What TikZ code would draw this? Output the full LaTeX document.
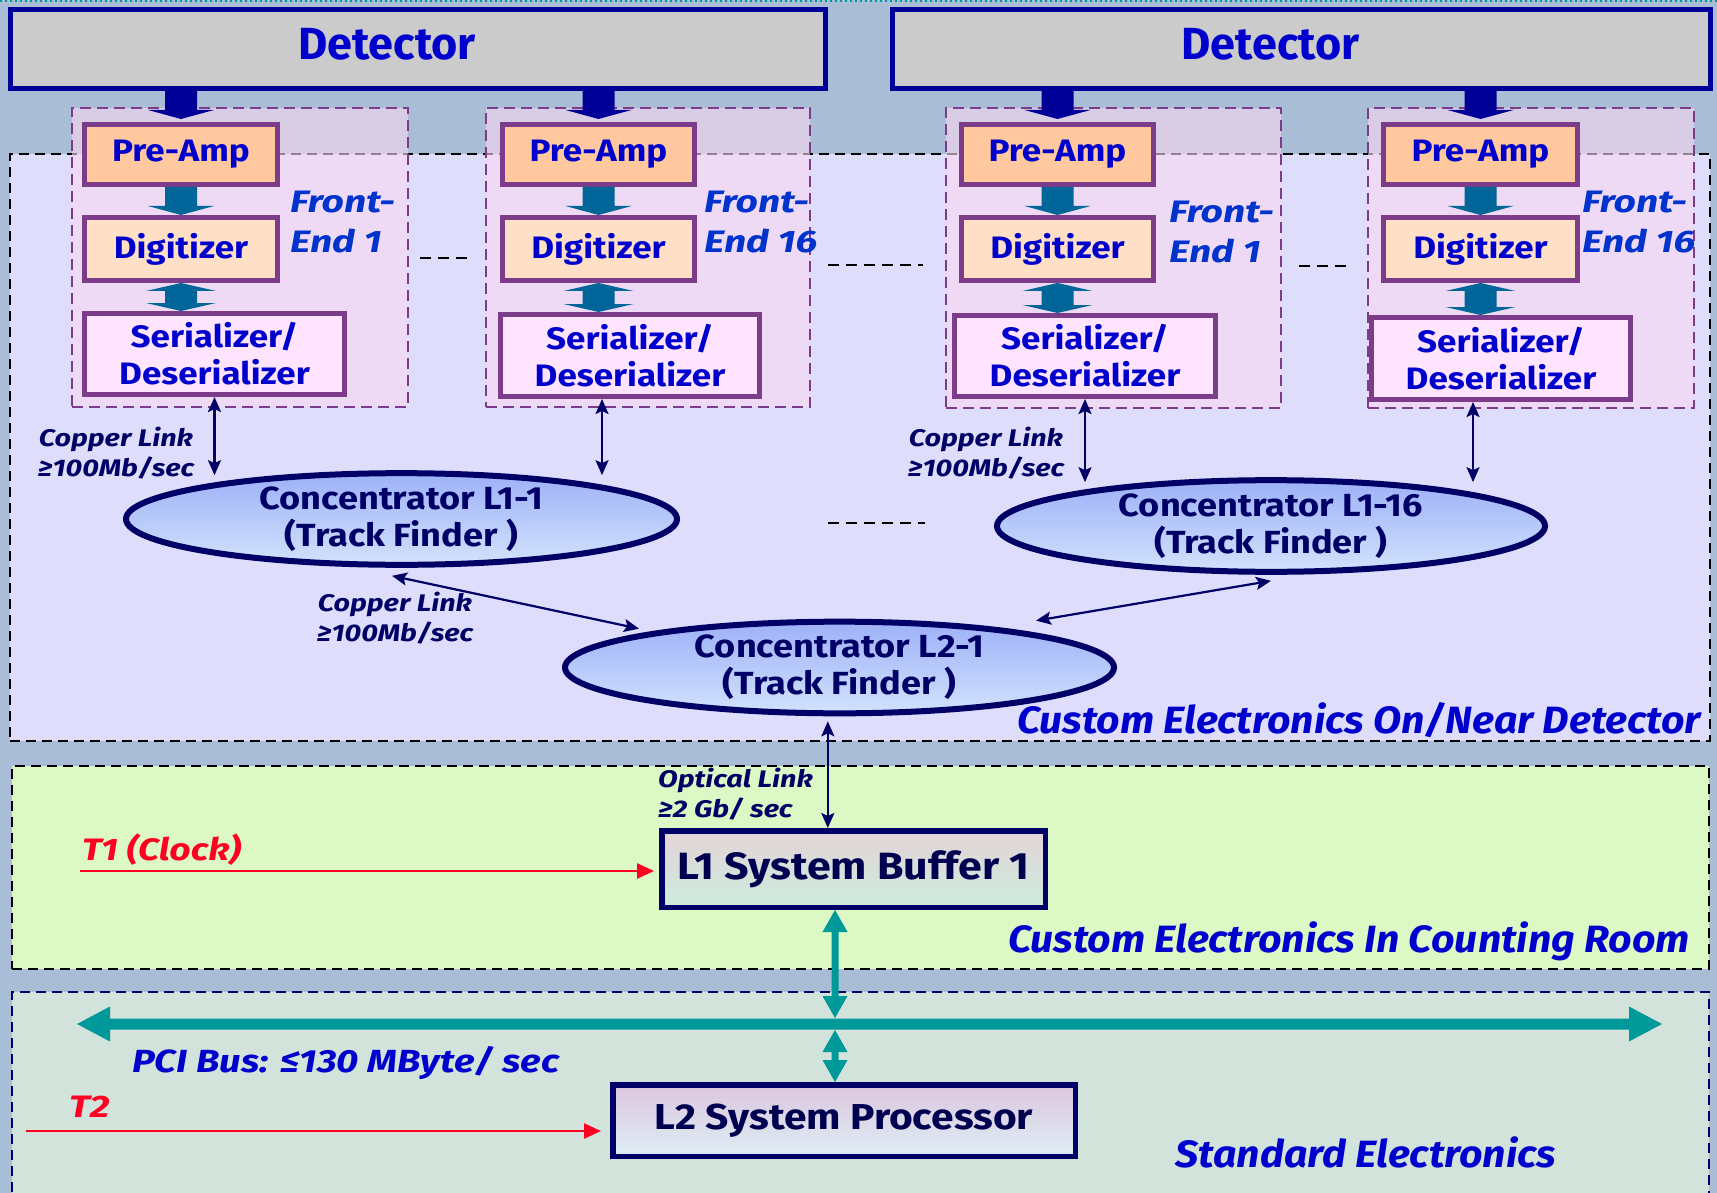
\documentclass[tikz,border=0pt]{standalone}
\usepackage{fontspec}
\setmainfont{Fira Sans}
% stretched cuts of the same face for the wider lettering
\newfontfamily\wideA{Fira Sans}[FakeStretch=1.08]
\newfontfamily\wideB{Fira Sans}[FakeStretch=1.13]
\newfontfamily\wideC{Fira Sans}[FakeStretch=1.2]
\newfontfamily\wideD{Fira Sans}[FakeStretch=1.26]
\usetikzlibrary{arrows.meta,shapes.geometric,calc}

\definecolor{bgblue}{HTML}{A9BED6}
\definecolor{detfill}{HTML}{CBCBCB}
\definecolor{detblue}{HTML}{000099}
\definecolor{txtblue}{HTML}{0000CC}
\definecolor{fetxt}{HTML}{0033CC}
\definecolor{navy}{HTML}{000066}
\definecolor{darknavy}{HTML}{000050}
\definecolor{purp}{HTML}{7D3C8A}
\definecolor{fepink}{HTML}{FAD8F0}
\definecolor{preampfill}{HTML}{FFC89E}
\definecolor{digitfill}{HTML}{FFDFC6}
\definecolor{serialfill}{HTML}{FFE4FF}
\definecolor{regon}{HTML}{DEDEFC}
\definecolor{regroom}{HTML}{DCF8C4}
\definecolor{regstd}{HTML}{D2E3DC}
\definecolor{busteal}{HTML}{009999}
\definecolor{flowteal}{HTML}{006699}
\definecolor{clockred}{HTML}{FF0022}
\definecolor{elltop}{HTML}{9DB1F8}
\definecolor{ellbot}{HTML}{D2E2FC}
\definecolor{bufftop}{HTML}{E4D4D8}
\definecolor{buffbot}{HTML}{CCEBDD}
\definecolor{proctop}{HTML}{DCC6DE}
\definecolor{procbot}{HTML}{DDEEF5}

\newcommand\fsz[2]{\fontsize{#1}{#2}\selectfont}

% filled block arrow pointing down: colour, tail, tip, half shaft, half head, head length
\newcommand\blockdown[6]{%
  \fill[#1] let \p1=(#2), \p2=(#3) in
    (\x2-#4pt,\y1) -- (\x2-#4pt,\y2+#6pt) -- (\x2-#5pt,\y2+#6pt) -- (\x2,\y2)
    -- (\x2+#5pt,\y2+#6pt) -- (\x2+#4pt,\y2+#6pt) -- (\x2+#4pt,\y1) -- cycle;}
% filled vertical double block arrow: colour, upper tip, lower tip, half shaft, half head, head length
\newcommand\blockupdown[6]{%
  \fill[#1] let \p1=(#2), \p2=(#3) in
    (\x1,\y1) -- (\x1+#5pt,\y1-#6pt) -- (\x1+#4pt,\y1-#6pt) -- (\x1+#4pt,\y2+#6pt)
    -- (\x1+#5pt,\y2+#6pt) -- (\x1,\y2) -- (\x1-#5pt,\y2+#6pt) -- (\x1-#4pt,\y2+#6pt)
    -- (\x1-#4pt,\y1-#6pt) -- (\x1-#5pt,\y1-#6pt) -- cycle;}
% filled horizontal double block arrow: colour, left tip, right tip, half shaft, half head, head length
\newcommand\blockleftright[6]{%
  \fill[#1] let \p1=(#2), \p2=(#3) in
    (\x1,\y1) -- (\x1+#6pt,\y1+#5pt) -- (\x1+#6pt,\y1+#4pt) -- (\x2-#6pt,\y1+#4pt)
    -- (\x2-#6pt,\y1+#5pt) -- (\x2,\y1) -- (\x2-#6pt,\y1-#5pt) -- (\x2-#6pt,\y1-#4pt)
    -- (\x1+#6pt,\y1-#4pt) -- (\x1+#6pt,\y1-#5pt) -- cycle;}

\begin{document}
\begin{tikzpicture}[x=1pt,y=-1pt,
  region/.style={draw, line width=2.2pt, dash pattern=on 10pt off 6pt, inner sep=0pt},
  fegroup/.style={draw=purp, line width=2pt, dash pattern=on 11pt off 6pt, fill=fepink, fill opacity=0.6, inner sep=0pt},
  detbox/.style={draw=detblue, line width=5pt, fill=detfill, inner sep=0pt, minimum height=79pt},
  stagebox/.style={draw=purp, line width=5pt, inner sep=0pt, text=txtblue, font=\wideB\bfseries\fsz{31}{37}, align=center},
  preamp/.style={stagebox, fill=preampfill, minimum width=193pt, minimum height=60pt},
  digit/.style={stagebox, fill=digitfill, minimum width=193pt, minimum height=63pt},
  serial/.style={stagebox, fill=serialfill, minimum width=260pt, minimum height=81pt},
  fronttxt/.style={anchor=west, text=fetxt, font=\wideD\bfseries\itshape\fsz{31}{40}, align=left, inner sep=0pt},
  conc/.style={ellipse, draw=navy, line width=6pt, top color=elltop, bottom color=ellbot, inner sep=0pt, text=navy, font=\wideB\bfseries\fsz{32}{37}, align=center},
  linktxt/.style={text=navy, font=\wideC\bfseries\itshape\fsz{24}{30}, align=center, inner sep=0pt},
  linkarr/.style={draw=navy, line width=2.2pt, {Stealth[length=15pt,width=13pt,inset=3pt]}-{Stealth[length=15pt,width=13pt,inset=3pt]}},
  sysbox/.style={draw=navy, line width=5.5pt, inner sep=0pt, text=darknavy},
  regtxt/.style={text=txtblue, font=\wideA\bfseries\itshape\fsz{38}{44}, inner sep=0pt, anchor=base},
  clocktxt/.style={text=clockred, font=\wideC\bfseries\itshape\fsz{31}{38}, inner sep=0pt, anchor=base west},
  clockarr/.style={draw=clockred, line width=2.5pt, -{Triangle[length=17pt,width=15pt]}},
  sepline/.style={draw=black, line width=2pt, dash pattern=on 11pt off 7pt}
]
\useasboundingbox (0,0) rectangle (1717,1193);
\fill[bgblue] (0,0) rectangle (1717,1193);
\draw[busteal, line width=2pt, dash pattern=on 2pt off 3pt] (0,1) -- (1717,1);

% three areas
\node[region, fill=regon, minimum width=1700pt, minimum height=587pt] (regOn) at (860,447.5) {};
\node[region, fill=regroom, minimum width=1697pt, minimum height=203pt] (regRoom) at (860.5,867.5) {};
\node[region, draw=navy, fill=regstd, minimum width=1697pt, minimum height=240pt] (regStd) at (860.5,1112) {};

% front-end groups
\node[fegroup, minimum width=336pt, minimum height=299pt] (fe1L) at (240,257.5) {};
\node[fegroup, minimum width=324pt, minimum height=299pt] (fe16L) at (648,257.5) {};
\node[fegroup, minimum width=335pt, minimum height=300pt] (fe1R) at (1113.5,258) {};
\node[fegroup, minimum width=326pt, minimum height=300pt] (fe16R) at (1531,258) {};

% detectors
\node[detbox, minimum width=815pt,
  label={[xshift=-31pt,yshift=5pt,text=txtblue,font=\bfseries\fsz{45}{50}]center:Detector}] (detL) at (418,49) {};
\node[detbox, minimum width=818pt,
  label={[xshift=-31pt,yshift=5pt,text=txtblue,font=\bfseries\fsz{45}{50}]center:Detector}] (detR) at (1301.5,49) {};

% ellipsis separators
\draw[sepline] (420,258) -- (469,258);
\draw[sepline] (828,265) -- (923,265);
\draw[sepline] (1299,266) -- (1347,266);
\draw[sepline] (828,523) -- (925,523);

% front-end chains
\node[preamp] (P1L) at (181,154.5) {Pre-Amp};
\node[digit] (D1L) at (181,249) {Digitizer};
\node[serial] (S1L) at (214.5,354) {Serializer/\\Deserializer};
\node[preamp, minimum width=192pt] (P16L) at (598.5,154.5) {Pre-Amp};
\node[digit, minimum width=192pt] (D16L) at (598.5,249) {Digitizer};
\node[serial, minimum width=259pt, minimum height=82pt] (S16L) at (630,355.5) {Serializer/\\Deserializer};
\node[preamp, minimum width=192pt] (P1R) at (1057.5,154.5) {Pre-Amp};
\node[digit, minimum width=192pt] (D1R) at (1057.5,249) {Digitizer};
\node[serial, minimum width=261pt] (S1R) at (1085,356) {Serializer/\\Deserializer};
\node[preamp, minimum width=194pt] (P16R) at (1480.5,154.5) {Pre-Amp};
\node[digit, minimum width=194pt] (D16R) at (1480.5,249) {Digitizer};
\node[serial, minimum width=259pt, minimum height=82pt] (S16R) at (1501,358.5) {Serializer/\\Deserializer};

\node[fronttxt] (t1L) at (290,222) {Front-\\End 1};
\node[fronttxt] (t16L) at (704,222) {Front-\\End 16};
\node[fronttxt] (t1R) at (1169,232) {Front-\\End 1};
\node[fronttxt] (t16R) at (1582,222) {Front-\\End 16};

% detector -> pre-amp
\blockdown{detblue}{P1L.north |- detL.south}{$(P1L.north)+(0,-3)$}{16}{33}{9}
\blockdown{detblue}{P16L.north |- detL.south}{$(P16L.north)+(0,-3)$}{16}{33}{9}
\blockdown{detblue}{P1R.north |- detR.south}{$(P1R.north)+(0,-3)$}{16}{33}{9}
\blockdown{detblue}{P16R.north |- detR.south}{$(P16R.north)+(0,-3)$}{16}{33}{9}
% pre-amp -> digitizer
\blockdown{flowteal}{P1L.south}{D1L.north}{16}{33}{9}
\blockdown{flowteal}{P16L.south}{D16L.north}{16}{33}{9}
\blockdown{flowteal}{P1R.south}{D1R.north}{16}{33}{9}
\blockdown{flowteal}{P16R.south}{D16R.north}{16}{33}{9}
% digitizer <-> serializer
\blockupdown{flowteal}{D1L.south}{D1L.south |- S1L.north}{16}{35}{8}
\blockupdown{flowteal}{D16L.south}{D16L.south |- S16L.north}{16}{35}{8}
\blockupdown{flowteal}{D1R.south}{D1R.south |- S1R.north}{16}{35}{8}
\blockupdown{flowteal}{D16R.south}{D16R.south |- S16R.north}{16}{35}{8}

% concentrators
\node[conc, minimum width=551pt, minimum height=72pt] (L11) at (401.5,519) {Concentrator L1-1\\(Track Finder )};
\node[conc, minimum width=548pt, minimum height=76pt] (L116) at (1271,526) {Concentrator L1-16\\(Track Finder )};
\node[conc, minimum width=549pt, minimum height=79pt] (L21) at (839.5,667.5) {Concentrator L2-1\\(Track Finder )};

% copper links
\coordinate (s16Lx) at ($(S16L.south west)!0.394!(S16L.south east)$);
\coordinate (s16Rx) at ($(S16R.south west)!0.394!(S16R.south east)$);
\draw[linkarr] (S1L.south) -- ($(S1L.south |- L11.north)+(0,5)$);
\draw[linkarr] (s16Lx) -- ($(s16Lx |- L11.north)+(0,5)$);
\draw[linkarr] (S1R.south) -- ($(S1R.south |- L116.north)+(0,5)$);
\draw[linkarr] (s16Rx) -- ($(s16Rx |- L116.north)+(0,5)$);
\draw[linkarr] ($(L11.south)+(-9.5,8)$) -- ($(L21.north)+(-200.5,10)$);
\draw[linkarr] ($(L116.south)+(0,6)$) -- ($(L21.north)+(196.5,2)$);

\node[linktxt] (cl1) at (116,453) {Copper Link\\≥100Mb/sec};
\node[linktxt] (cl2) at (395,618) {Copper Link\\≥100Mb/sec};
\node[linktxt] (cl3) at (986,453) {Copper Link\\≥100Mb/sec};

\node[regtxt] (lblOn) at (1359,733) {Custom Electronics On/Near Detector};

% counting room
\node[sysbox, minimum width=383.5pt, minimum height=76.5pt, top color=bufftop, bottom color=buffbot,
  font=\wideB\bfseries\fsz{38}{44}] (L1B) at (853.5,869) {L1 System Buffer 1};
\coordinate (optx) at ($(L1B.north west)!0.434!(L1B.north east)$);
\draw[linkarr] ($(optx |- L21.south)+(0,5)$) -- (optx);
\node[linktxt, anchor=west, align=left] (optlbl) at (658,794) {Optical Link\\≥2 Gb/ sec};

\coordinate (t1s) at (80,871);
\draw[clockarr, shorten >=5pt] (t1s) -- (t1s -| L1B.west);
\node[clocktxt] (t1lbl) at (82,860) {T1 (Clock)};
\node[regtxt] (lblRoom) at (1349,952) {Custom Electronics In Counting Room};

% standard electronics
\node[sysbox, minimum width=462.5pt, minimum height=71.5pt, top color=proctop, bottom color=procbot,
  font=\wideB\bfseries\fsz{36}{42}] (L2P) at (844,1120.5) {L2 System Processor};
\coordinate (busL) at (77,1024);
\coordinate (busR) at (1662,1024);
\coordinate (busJ) at (835,1024);
\blockleftright{busteal}{busL}{busR}{5.5}{17.5}{33}
\blockupdown{busteal}{busJ |- L1B.south}{$(busJ)+(0,-6)$}{3.5}{12.5}{22}
\blockupdown{busteal}{$(busJ)+(0,6)$}{busJ |- L2P.north}{3.5}{12.5}{22}
\node[anchor=base west, text=txtblue, font=\wideC\bfseries\itshape\fsz{32}{38}, inner sep=0pt] (pcilbl) at (132,1072) {PCI Bus: ≤130 MByte/ sec};

\coordinate (t2s) at (26,1131);
\draw[clockarr, shorten >=9pt] (t2s) -- (t2s -| L2P.west);
\node[clocktxt, font=\wideD\bfseries\itshape\fsz{31}{38}] (t2lbl) at (69,1117) {T2};
\node[regtxt] (lblStd) at (1366,1167) {Standard Electronics};
\end{tikzpicture}
\end{document}
